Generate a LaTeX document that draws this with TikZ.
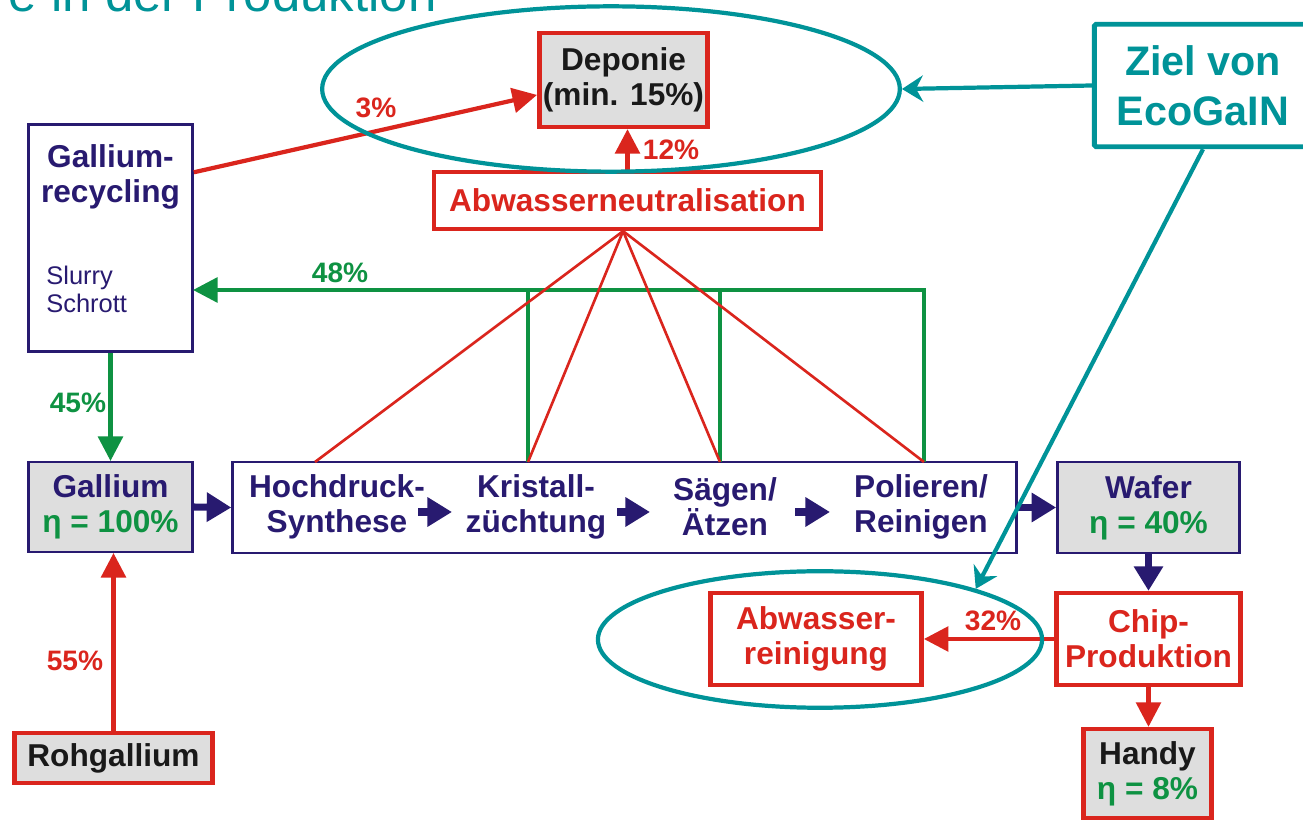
\documentclass[tikz,border=0pt]{standalone}
\usepackage{fontspec}
\setmainfont{Liberation Sans}
\usetikzlibrary{arrows.meta,shapes.geometric}
\definecolor{cnavy}{RGB}{40,26,112}
\definecolor{cred}{RGB}{218,37,29}
\definecolor{cgreen}{RGB}{14,146,66}
\definecolor{cteal}{RGB}{0,147,152}
\definecolor{cgrey}{RGB}{222,222,222}
\definecolor{cblack}{RGB}{25,25,25}
\tikzset{
  fs/.style={font=\bfseries\fontsize{18}{19.8}\selectfont},
  pct/.style={font=\bfseries\fontsize{16}{18}\selectfont, inner sep=0pt},
  nbox/.style={draw=cnavy, line width=1.4pt, inner sep=0pt, align=center, fs},
  rbox/.style={draw=cred, line width=2.6pt, inner sep=0pt, align=center, fs},
  gfill/.style={fill=cgrey},
  txt/.style={align=center, inner sep=0pt, fs},
  navyarr/.style={draw=cnavy, line width=4pt, -{Triangle[length=14pt,width=16pt]}},
  redarr/.style={draw=cred, line width=2.4pt, -{Triangle[length=14pt,width=14pt]}},
  greenarr/.style={draw=cgreen, line width=2.4pt, -{Triangle[length=14pt,width=14pt]}},
  redline/.style={draw=cred, line width=1.5pt},
  greenline/.style={draw=cgreen, line width=2.4pt},
  tealarr/.style={draw=cteal, line width=2.4pt, -{Stealth[length=12pt,width=15pt,inset=4pt]}},
  tealell/.style={draw=cteal, line width=2.4pt, ellipse, inner sep=0pt},
}
\begin{document}
\begin{tikzpicture}[x=0.02cm,y=-0.02cm]
\useasboundingbox (0,0) rectangle (1303,820);

% title (cut off at top)
\node[cteal, font=\fontsize{29}{32}\selectfont, anchor=base east, inner sep=0pt] (title) at (437,12) {e in der Produktion};

% boxes
\node[nbox, minimum width=93.5pt, minimum height=129.3pt] (rec) at (110.5,238) {};
\node[txt, cnavy] (rectxt) at (110.5,177) {Gallium-\\recycling};
\node[cnavy, anchor=west, align=left, inner sep=0pt, font=\fontsize{14.5}{16}\selectfont] (slurry) at (46,289) {Slurry\\Schrott};

\node[rbox, gfill, text=cblack, minimum width=95.8pt, minimum height=53.3pt] (dep) at (623.5,80) {Deponie\\(min. 15\%)};
\node[rbox, text=cred, minimum width=220.5pt, minimum height=32.3pt] (neu) at (627.5,200.5) {Abwasserneutralisation};

\node[nbox, gfill, text=cnavy, minimum width=93.5pt, minimum height=51pt] (gal) at (110.5,507) {Gallium\\\textcolor{cgreen}{η = 100\%}};
\node[nbox, minimum width=446.2pt, minimum height=51.6pt] (proc) at (624.5,507.5) {};
\node[txt, cnavy] (hoch) at (337,507) {Hochdruck-\\Synthese};
\node[txt, cnavy] (kris) at (536,507) {Kristall-\\züchtung};
\node[txt, cnavy] (saeg) at (725,507) {Sägen/\\Ätzen};
\node[txt, cnavy] (poli) at (921,507) {Polieren/\\Reinigen};

\node[nbox, gfill, text=cnavy, minimum width=103.7pt, minimum height=51.6pt] (wafer) at (1148.5,507.5) {Wafer\\\textcolor{cgreen}{η = 40\%}};
\node[rbox, text=cred, minimum width=104.9pt, minimum height=52.2pt] (chip) at (1148.5,639) {Chip-\\Produktion};
\node[rbox, text=cred, minimum width=120.2pt, minimum height=52.2pt] (abw) at (816,639) {Abwasser-\\reinigung};
\node[rbox, gfill, text=cblack, minimum width=73.1pt, minimum height=50.5pt] (handy) at (1147.5,773.5) {Handy\\\textcolor{cgreen}{η = 8\%}};
\node[rbox, gfill, text=cblack, minimum width=112.8pt, minimum height=28.3pt] (roh) at (113.5,758) {Rohgallium};

% coordinates on the process box
\coordinate (r1) at (315,462);
\coordinate (p2) at (528,462);
\coordinate (p3) at (720,462);
\coordinate (p4) at (924,462);
\coordinate (g48) at (193,290);
\coordinate (a1s) at (418,512); \coordinate (a1e) at (452,512);
\coordinate (a2s) at (617,512); \coordinate (a2e) at (650,512);
\coordinate (a3s) at (795,512); \coordinate (a3e) at (830,512);

% green recycling lines
\draw[greenline] (p2) -- (p2 |- g48);
\draw[greenline] (p3) -- (p3 |- g48);
\draw[greenarr] (p4) |- (g48);
\draw[greenarr] (rec.south) -- (gal.north);

% red fan lines
\draw[redline] ([xshift=-2.5pt]neu.south) -- (r1);
\draw[redline] ([xshift=-2.5pt]neu.south) -- (p2);
\draw[redline] ([xshift=-2.5pt]neu.south) -- (p3);
\draw[redline] ([xshift=-2.5pt]neu.south) -- (p4);

% red arrows
\draw[redarr] ([yshift=37.4pt]rec.east) -- ([yshift=-8.5pt]dep.west);
\draw[redarr] (neu.north) -- (neu.north |- dep.south);
\draw[redarr] (roh.north) -- (roh.north |- gal.south);
\draw[redarr] (chip.west) -- (abw.east);
\draw[redarr] (chip.south) -- (chip.south |- handy.north);

% navy arrows
\draw[navyarr] (gal.east) -- (proc.west);
\draw[navyarr] (proc.east) -- (wafer.west);
\draw[navyarr] (wafer.south) -- (chip.north);
\draw[navyarr] (a1s) -- (a1e);
\draw[navyarr] (a2s) -- (a2e);
\draw[navyarr] (a3s) -- (a3e);

% percentages
\node[pct, text=cred] (l3) at (376,108) {3\%};
\node[pct, text=cred] (l12) at (671,150) {12\%};
\node[pct, text=cgreen] (l48) at (340,273) {48\%};
\node[pct, text=cgreen] (l45) at (78,403) {45\%};
\node[pct, text=cred] (l55) at (75,661) {55\%};
\node[pct, text=cred] (l32) at (993,621) {32\%};

% teal highlights
\node[tealell, minimum width=328.8pt, minimum height=94.1pt] (ell1) at (611,89) {};
\node[tealell, minimum width=252.8pt, minimum height=77.7pt] (ell2) at (820,639.5) {};
\node[draw=cteal, line width=2.8pt, rounded corners=1pt, inner sep=0pt, text=cteal, align=center,
      font=\bfseries\fontsize{23.5}{28.3}\selectfont, minimum width=123.6pt, minimum height=69.7pt] (ziel) at (1203,85.5) {Ziel von\\EcoGaIN};
\draw[tealarr] (ziel.west) -- (ell1.east);
\draw[tealarr] (ziel.south) -- (ell2.18);
\end{tikzpicture}
\end{document}
